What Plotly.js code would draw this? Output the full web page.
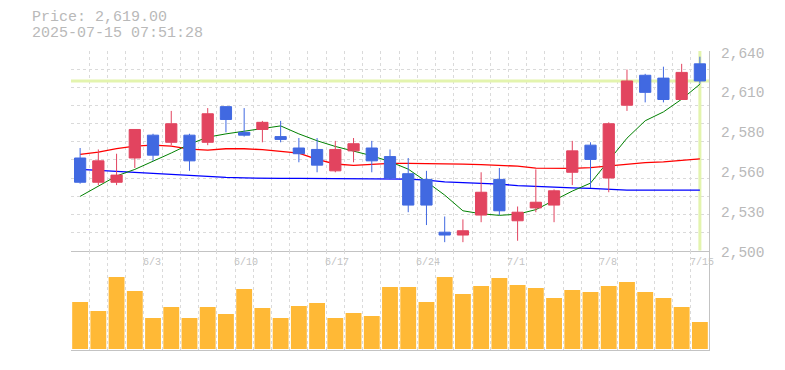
<!DOCTYPE html>
<html>
<head>
<meta charset="utf-8">
<script src="https://cdn.plot.ly/plotly-3.0.1.min.js"></script>
<style>
html,body{margin:0;padding:0;background:#ffffff;}
#chart{width:785px;height:370px;}
</style>
</head>
<body>
<div id="chart"></div>
<script>
// ---- data ----
const dates = ["5/28","5/29","5/30","6/2","6/3","6/4","6/5","6/6","6/9","6/10","6/11","6/12","6/13",
  "6/16","6/17","6/18","6/19","6/20","6/23","6/24","6/25","6/26","6/27","6/30","7/1","7/2","7/3","7/4",
  "7/7","7/8","7/9","7/10","7/11","7/14","7/15"];
const openP  = [2565,2548,2548,2565,2581,2576,2581,2576,2601,2583,2585,2580,2572,2571,2556,2570,2572,2566,2554,2550,2513,2511,2525,2550,2521,2530,2532,2555,2574,2551,2602,2623,2621,2606,2631];
const highP  = [2572,2571,2568,2585,2582,2598,2582,2600,2601,2600,2591,2591,2579,2579,2577,2579,2577,2571,2565,2556,2524,2522,2555,2558,2531,2557,2543,2577,2576,2590,2627,2624,2629,2631,2636];
const lowP   = [2547,2546,2546,2558,2563,2574,2556,2574,2583,2580,2576,2576,2562,2555,2555,2562,2555,2550,2527,2518,2506,2506,2520,2525,2507,2527,2520,2546,2544,2541,2598,2604,2604,2606,2617];
const closeP = [2548,2563,2553,2585,2567,2589,2563,2596,2592,2581,2590,2578,2568,2560,2571,2575,2563,2551,2532,2532,2511,2514,2541,2528,2527,2534,2542,2570,2564,2589,2619,2611,2606,2625,2619];
const ma5  = [2538.1,2545.0,2552.4,2557.0,2562.6,2568.5,2574.7,2579.6,2581.9,2583.8,2585.2,2587.5,2581.9,2577.1,2573.1,2570.0,2566.6,2562.4,2557.2,2548.4,2539.0,2528.0,2525.9,2524.8,2525.6,2528.8,2535.5,2541.8,2547.4,2563.3,2578.9,2591.1,2597.3,2606.2,2616.7];
const ma25 = [2567.5,2569.1,2571.5,2573.3,2574.0,2573.3,2571.2,2570.5,2571.5,2571.5,2570.8,2569.8,2568.4,2564.0,2560.8,2559.8,2560.5,2561.2,2561.2,2561.2,2560.7,2560.7,2560.3,2560.0,2559.3,2557.9,2557.7,2557.7,2558.2,2559.3,2560.9,2561.7,2562.3,2563.1,2564.4];
const ma75 = [2557.0,2556.3,2555.7,2554.9,2554.0,2553.3,2552.4,2551.8,2551.4,2551.0,2550.7,2550.7,2550.7,2550.7,2550.7,2550.7,2550.5,2550.2,2550.2,2549.5,2548.3,2547.7,2547.2,2546.7,2545.6,2544.9,2544.4,2544.0,2543.7,2542.9,2542.5,2542.5,2542.5,2542.5,2542.5];
const volume = [47,38,72,58,31,42,31,42,35,60,41,31,43,46,31,36,33,62,62,47,72,55,63,71,64,61,51,59,57,63,67,57,51,42,27];
const tickDates = ["6/3","6/10","6/17","6/24","7/1","7/8","7/15"];
const priceRange = [2500, 2640];
const priceTickVals = [2500,2528,2556,2584,2612,2640];
const priceTickText = ["2,500","2,530","2,560","2,580","2,610","2,640"];
const stamp = "2025-07-15 07:51:28";

// ---- derived ----
const idx = dates.map((d,i)=>i);
const lastIdx = idx[idx.length-1];
const lastPrice = closeP[closeP.length-1];
const fmt = v => v.toLocaleString('en-US',{minimumFractionDigits:2,maximumFractionDigits:2});

const RED='#e2445f', BLUE='#4169e1', GRID='#dadada', AXIS='#c3c3c3', TXT='#b9b9b9', VOL='#ffb936', HL='#e3f4ae';
const MONO='Liberation Mono, DejaVu Sans Mono, monospace';
const PB = 0.332;
const xr = [-0.5, dates.length-0.5];

const traces = [
  {type:'bar', x:idx, y:volume, xaxis:'x2', yaxis:'y2', width:0.87, marker:{color:VOL,line:{width:0}}, hoverinfo:'skip'},
  // current-price highlight lines
  {type:'scatter', mode:'lines', x:xr, y:[lastPrice,lastPrice], xaxis:'x', yaxis:'y', line:{color:HL,width:3}, hoverinfo:'skip'},
  {type:'scatter', mode:'lines', x:[lastIdx,lastIdx], y:priceRange, xaxis:'x', yaxis:'y', line:{color:HL,width:3}, hoverinfo:'skip'},
  // moving averages
  {type:'scatter', mode:'lines', x:idx, y:ma75, xaxis:'x', yaxis:'y', line:{color:'#0000ff',width:1.3}, hoverinfo:'skip'},
  {type:'scatter', mode:'lines', x:idx, y:ma25, xaxis:'x', yaxis:'y', line:{color:'#ff0000',width:1.3}, hoverinfo:'skip'},
  {type:'scatter', mode:'lines', x:idx, y:ma5, xaxis:'x', yaxis:'y', line:{color:'#008000',width:1}, hoverinfo:'skip'},
  // candles on an overlaid copy of the price axes so they sit on top
  {type:'candlestick', x:idx, open:openP, high:highP, low:lowP, close:closeP, xaxis:'x3', yaxis:'y3',
   whiskerwidth:0,
   increasing:{line:{color:RED,width:1}, fillcolor:RED},
   decreasing:{line:{color:BLUE,width:1}, fillcolor:BLUE}, hoverinfo:'skip'}
];

const gridX = {range:xr, tick0:-0.5, dtick:1, showgrid:true, gridcolor:GRID, griddash:'3px,3px', gridwidth:1,
  showticklabels:false, ticks:'', zeroline:false, showline:true, linecolor:AXIS, linewidth:1, fixedrange:true};
const hidden = {showgrid:false, showticklabels:false, ticks:'', zeroline:false, showline:false, fixedrange:true};

const annotations = [
  {xref:'paper', yref:'paper', x:-0.0643, y:1.1114, xanchor:'left', yanchor:'middle', showarrow:false,
   text:'Price: '+fmt(lastPrice), font:{family:MONO, size:15, color:TXT}},
  {xref:'paper', yref:'paper', x:-0.0643, y:1.0592, xanchor:'left', yanchor:'middle', showarrow:false,
   text:stamp, font:{family:MONO, size:15, color:TXT}}
];
priceTickVals.forEach((v,i)=>annotations.push({
  xref:'paper', yref:'y', x:1, y:v, xanchor:'left', yanchor:'middle', xshift:10, yshift:-2.5,
  showarrow:false, text:priceTickText[i], font:{family:MONO, size:14.5, color:TXT}
}));
tickDates.forEach(d=>annotations.push({
  xref:'x', yref:'paper', x:dates.indexOf(d)-0.5, y:PB, xanchor:'left', yanchor:'top', xshift:-3, yshift:-4,
  showarrow:false, text:d, font:{family:MONO, size:10, color:'#c3c3c3'}
}));

const layout = {
  width:785, height:370,
  margin:{l:71, r:76, t:51, b:20, pad:0},
  paper_bgcolor:'#ffffff', plot_bgcolor:'#ffffff',
  showlegend:false, hovermode:false, boxgap:0.12, bargap:0.13,
  xaxis: Object.assign({}, gridX, {anchor:'y', domain:[0,1]}),
  xaxis2: Object.assign({}, gridX, {anchor:'y2', domain:[0,1]}),
  xaxis3: Object.assign({}, hidden, {overlaying:'x', anchor:'y3', range:xr, rangeslider:{visible:false}}),
  yaxis: {domain:[PB,1], anchor:'x', side:'right', range:priceRange, tick0:priceRange[0], dtick:(priceRange[1]-priceRange[0])/11,
    showgrid:true, gridcolor:GRID, griddash:'3px,3px', gridwidth:1, showticklabels:false, ticks:'',
    zeroline:false, showline:true, linecolor:AXIS, linewidth:1, fixedrange:true},
  yaxis3: Object.assign({}, hidden, {overlaying:'y', anchor:'x3', side:'right', range:priceRange}),
  yaxis2: {domain:[0,PB], anchor:'x2', side:'right', range:[-1,98.3], showgrid:false, showticklabels:false,
    ticks:'', zeroline:false, showline:true, linecolor:AXIS, linewidth:1, fixedrange:true},
  annotations: annotations
};

Plotly.newPlot('chart', traces, layout, {staticPlot:true, displayModeBar:false});
</script>
</body>
</html>
